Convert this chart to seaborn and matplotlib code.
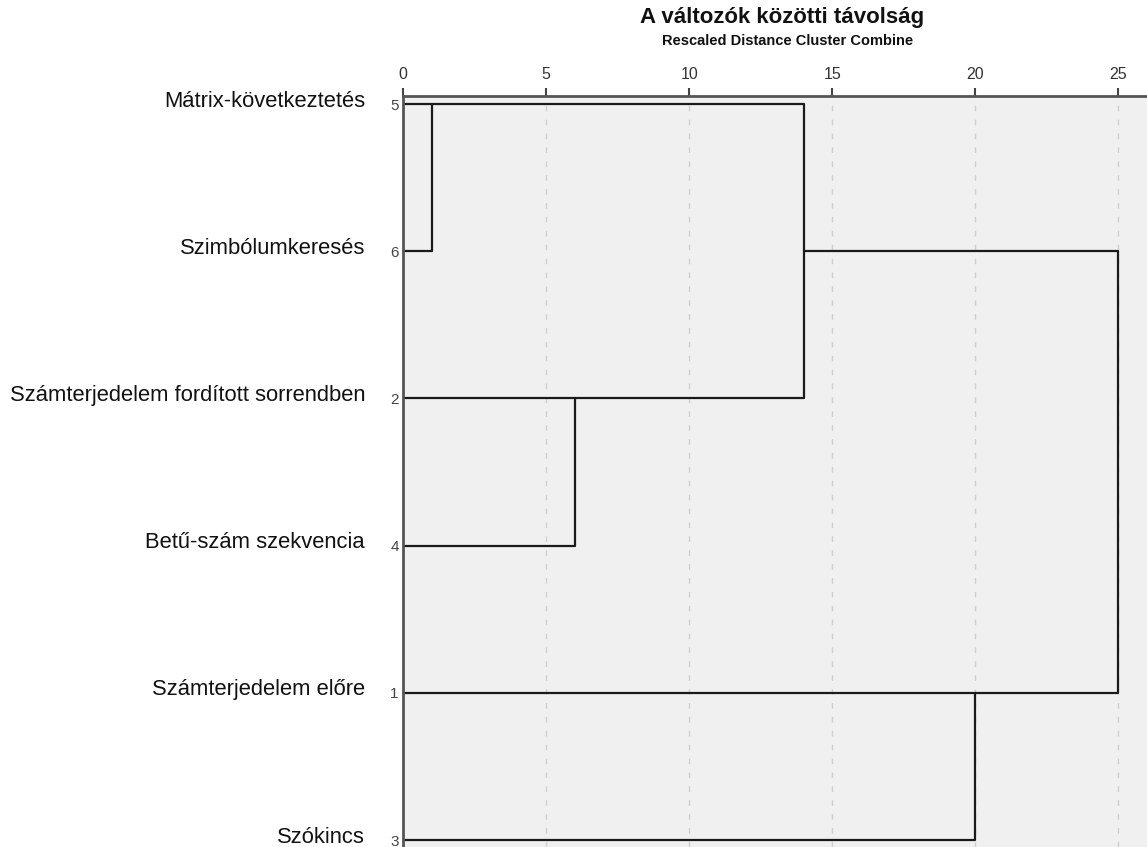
import matplotlib
matplotlib.use("Agg")
import matplotlib.pyplot as plt
import matplotlib.transforms as mtransforms
import matplotlib.font_manager as fm
import seaborn as sns
import pandas as pd

# Leaves in dendrogram order (top to bottom) with their case numbers
leaf_ids = [5, 6, 2, 4, 1, 3]
leaf_names = [
    "Mátrix-következtetés",
    "Szimbólumkeresés",
    "Számterjedelem fordított sorrendben",
    "Betű-szám szekvencia",
    "Számterjedelem előre",
    "Szókincs",
]

# Agglomeration steps: (cluster A, cluster B, rescaled distance)
merge_a = ["5", "2", "5+6", "1", "5+6+2+4"]
merge_b = ["6", "4", "2+4", "3", "1+3"]
merge_dist = [1, 6, 14, 20, 25]

x_ticks = [0, 5, 10, 15, 20, 25]

sns.set_theme(style="white")
plt.rcParams["font.family"] = ["Liberation Sans", "DejaVu Sans"]

narrow = "Liberation Sans Narrow"
avail = {f.name for f in fm.fontManager.ttflist}
if narrow not in avail:
    narrow = "Liberation Sans"

# Build the U-shaped link segments
rows = {str(l): i for i, l in enumerate(leaf_ids)}
heights = {str(l): 0.0 for l in leaf_ids}
seg_rows = []
for k, (a, b, d) in enumerate(zip(merge_a, merge_b, merge_dist)):
    ya, yb = rows[a], rows[b]
    ha, hb = heights[a], heights[b]
    pts = [(ha, ya), (d, ya), (d, yb), (hb, yb)]
    for j, (x, y) in enumerate(pts):
        seg_rows.append({"link": k, "order": j, "dist": x, "row": y})
    name = a + "+" + b
    rows[name] = (ya + yb) // 2
    heights[name] = d
links = pd.DataFrame(seg_rows)

fig = plt.figure(figsize=(11.47, 8.47), dpi=100)
ax = fig.add_axes([403 / 1147, 0.0, 1 - 403 / 1147, 1 - 96 / 847])
ax.set_facecolor("#f0f0f0")

sns.lineplot(data=links, x="dist", y="row", units="link", estimator=None,
             sort=False, color="#1a1a1a", linewidth=1.6, ax=ax)

for t in x_ticks[1:]:
    ax.axvline(t, color="#cfcfcf", linestyle=(0, (4, 6)), linewidth=1.0, zorder=0)

ax.set_xlim(0, 26.0)
ax.set_ylim(5 + 7 / 147.2, -8 / 147.2)

ax.xaxis.tick_top()
ax.set_xticks(x_ticks)
ax.set_xticklabels([str(t) for t in x_ticks], fontfamily=narrow, fontsize=11.5,
                   color="#333333")
ax.tick_params(axis="x", direction="out", length=6, width=1.5, color="#444444", pad=4)

ax.set_yticks(range(len(leaf_ids)))
ax.set_yticklabels([str(l) for l in leaf_ids], fontfamily=narrow, fontsize=11,
                   color="#444444")
ax.tick_params(axis="y", length=0, pad=3)

ax.set_xlabel("")
ax.set_ylabel("")

for side in ["right", "bottom"]:
    ax.spines[side].set_visible(False)
for side in ["top", "left"]:
    ax.spines[side].set_color("#555555")
    ax.spines[side].set_linewidth(2.0)

trans = mtransforms.blended_transform_factory(fig.transFigure, ax.transData)
for i, name in enumerate(leaf_names):
    ax.text(365 / 1147, i - 0.02, name, transform=trans, ha="right", va="center",
            fontsize=15.8, color="#111111", clip_on=False)

fig.text(782 / 1147, 1 - 18 / 847, "A változók közötti távolság", ha="center",
         va="center", fontsize=16, fontweight="bold", color="#111111")
fig.text(788 / 1147, 1 - 41 / 847, "Rescaled Distance Cluster Combine", ha="center",
         va="center", fontsize=10.5, fontweight="bold", fontfamily=narrow, color="#111111")

fig.savefig("out.png", dpi=100)
